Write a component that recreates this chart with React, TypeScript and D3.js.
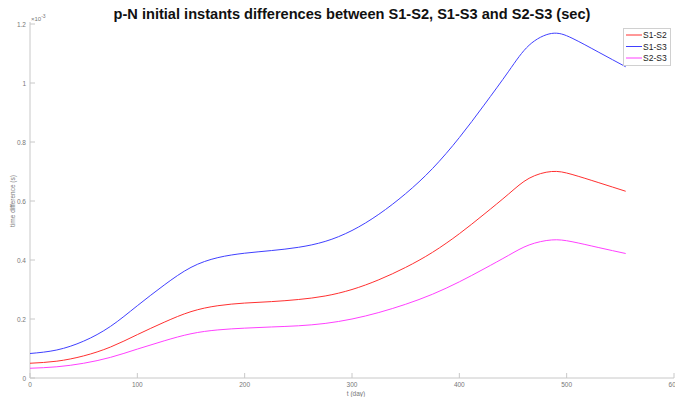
import React from "react";
import * as d3 from "d3";

// Days at which the three differences are sampled
const days = [0, 25, 50, 75, 100, 125, 150, 175, 200, 225, 250, 275, 300, 325, 350, 375, 400, 423, 446, 465, 486, 505, 530, 555];

// Time differences, in units of 1e-3 s
const s1s2 = [0.05, 0.057, 0.075, 0.105, 0.147, 0.189, 0.225, 0.245, 0.254, 0.259, 0.266, 0.278, 0.3, 0.333, 0.375, 0.426, 0.489, 0.555, 0.624, 0.677, 0.7, 0.69, 0.662, 0.633];
const s1s3 = [0.083, 0.095, 0.125, 0.175, 0.245, 0.315, 0.375, 0.408, 0.423, 0.432, 0.443, 0.463, 0.5, 0.555, 0.625, 0.71, 0.815, 0.925, 1.04, 1.128, 1.168, 1.152, 1.104, 1.055];
const s2s3 = [0.033, 0.038, 0.05, 0.07, 0.098, 0.126, 0.15, 0.163, 0.169, 0.173, 0.177, 0.185, 0.2, 0.222, 0.25, 0.284, 0.326, 0.37, 0.416, 0.451, 0.468, 0.462, 0.442, 0.422];

const seriesNames = ["S1-S2", "S1-S3", "S2-S3"];
const seriesColors = ["#ff3030", "#4040ff", "#ff40ff"];

const xTicks = [0, 100, 200, 300, 400, 500, 600];
const yTicks = [0, 0.2, 0.4, 0.6, 0.8, 1, 1.2];

const W = 675;
const H = 397;
const left = 30;
const right = 674;
const top = 24;
const bottom = 378;

export default function App() {
  const x = d3.scaleLinear().domain([0, 600]).range([left, right]);
  const y = d3.scaleLinear().domain([0, 1.2]).range([bottom, top]);
  const line = d3
    .line<[number, number]>()
    .x((d) => x(d[0]))
    .y((d) => y(d[1]))
    .curve(d3.curveNatural);

  const series = [s1s2, s1s3, s2s3];
  const font = "'Liberation Sans', Arial, sans-serif";
  const axisColor = "#c8c8c8";
  const labelColor = "#777";

  return (
    <svg
      width={W}
      height={H}
      style={{ position: "fixed", left: 0, top: 0, background: "#fff" }}
      fontFamily={font}
    >
      <rect x={0} y={0} width={W} height={H} fill="#fff" />
      {/* axes */}
      <line x1={left} x2={left} y1={top - 2} y2={bottom} stroke={axisColor} strokeWidth={1} />
      <line x1={left} x2={right} y1={bottom} y2={bottom} stroke={axisColor} strokeWidth={1} />
      {xTicks.map((t) => (
        <g key={"x" + t}>
          <line x1={x(t)} x2={x(t)} y1={bottom} y2={bottom - 5} stroke={axisColor} />
          <text x={x(t)} y={bottom + 8.5} fontSize={6.5} fill={labelColor} textAnchor="middle">
            {t}
          </text>
        </g>
      ))}
      {yTicks.map((t) => (
        <g key={"y" + t}>
          <line x1={left} x2={left + 5} y1={y(t)} y2={y(t)} stroke={axisColor} />
          <text x={left - 4} y={y(t) + 2.5} fontSize={6.5} fill={labelColor} textAnchor="end">
            {t}
          </text>
        </g>
      ))}
      <text x={left + 1} y={top - 3} fontSize={6} fill={labelColor}>
        ×10
        <tspan dy={-3} fontSize={5}>-3</tspan>
      </text>
      {/* axis labels */}
      <text x={(left + right) / 2 + 4} y={395.5} fontSize={6.5} fill={labelColor} textAnchor="middle">
        t (day)
      </text>
      <text
        transform={`translate(15,${(top + bottom) / 2}) rotate(-90)`}
        fontSize={6.5}
        fill={labelColor}
        textAnchor="middle"
      >
        time difference (s)
      </text>
      {/* title */}
      <text x={(left + right) / 2} y={19} fontSize={14.6} fontWeight="bold" fill="#111" textAnchor="middle">
        p-N initial instants differences between S1-S2, S1-S3 and S2-S3 (sec)
      </text>
      {/* curves */}
      {series.map((vals, i) => (
        <path
          key={seriesNames[i]}
          d={line(days.map((d, j) => [d, vals[j]] as [number, number])) || ""}
          fill="none"
          stroke={seriesColors[i]}
          strokeWidth={1}
        />
      ))}
      {/* legend */}
      <rect x={623.5} y={28.5} width={47} height={37} fill="#fff" stroke="#d0d0d0" strokeWidth={1} />
      {seriesNames.map((n, i) => (
        <g key={"lg" + n}>
          <line x1={626} x2={642} y1={35 + i * 11.5} y2={35 + i * 11.5} stroke={seriesColors[i]} strokeWidth={1} />
          <text x={643} y={38 + i * 11.5} fontSize={8.5} fill="#222">
            {n}
          </text>
        </g>
      ))}
    </svg>
  );
}
